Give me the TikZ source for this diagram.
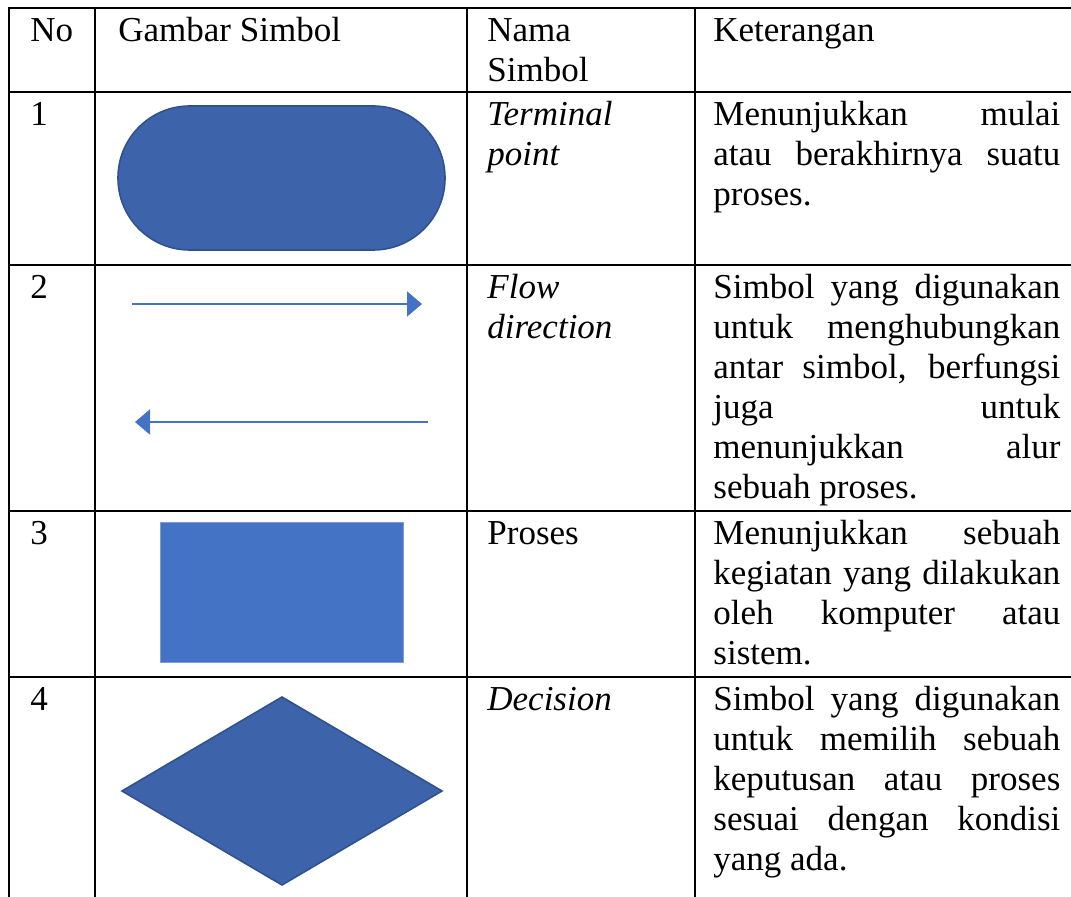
\documentclass[tikz,border=0pt]{standalone}
\usepackage{fontspec}
\setmainfont{Liberation Serif}
\usetikzlibrary{arrows.meta}

\definecolor{shapedark}{HTML}{3D64AB}
\definecolor{shapeedge}{HTML}{2F528F}
\definecolor{shapeblue}{HTML}{4472C4}

% one justified line of the Keterangan column
\newcommand{\fullline}[1]{\makebox[173.5pt][s]{#1}}

\begin{document}
\begin{tikzpicture}[x=0.5pt, y=-0.5pt,
    cell/.style={anchor=north west, inner sep=0pt, align=left, font=\fontsize{17.5}{20}\selectfont},
    grid/.style={draw=black, line width=1.2pt, line cap=rect},
    dark/.style={fill=shapedark, draw=shapeedge, line width=0.8pt},
    light/.style={fill=shapeblue, draw=shapeblue!70!white, line width=0.5pt},
    flow/.style={-{Triangle[length=7.5pt, width=12.5pt]}, draw=shapeblue, line width=1pt}
  ]
    \useasboundingbox (0,0) rectangle (1071,897);
    % table rules
    \foreach \y in {8, 92, 265, 511, 677}
      \draw[grid] (9,\y) -- (1075,\y);
    \foreach \x in {9, 95, 467, 695}
      \draw[grid] (\x,8) -- (\x,900);

    % header
    \node[cell] (hno) at (30,13) {\strut No};
    \node[cell] (hgambar) at (118,13) {\strut Gambar Simbol};
    \node[cell] (hnama) at (487,13) {\strut Nama\\Simbol};
    \node[cell] (hket) at (713,13) {\strut Keterangan};

    % numbers
    \node[cell] (no1) at (30,97) {\strut 1};
    \node[cell] (no2) at (30,270) {\strut 2};
    \node[cell] (no3) at (30,516) {\strut 3};
    \node[cell] (no4) at (30,682) {\strut 4};

    % symbols
    \filldraw[dark, rounded corners=35.9pt] (118,106) rectangle (445,250);
    \coordinate (fwdA) at (132,304);
    \coordinate (fwdB) at (422,304);
    \coordinate (backA) at (428,422);
    \coordinate (backB) at (135,422);
    \draw[flow] (fwdA) -- (fwdB);
    \draw[flow] (backA) -- (backB);
    \filldraw[light] (160,523) rectangle (403,663);
    \filldraw[dark] (282,697) -- (442,791) -- (282,885) -- (122,791) -- cycle;

    % names
    \node[cell] (nama1) at (487,97) {\strut\textit{Terminal}\\\textit{point}};
    \node[cell] (nama2) at (487,270) {\strut\textit{Flow}\\\textit{direction}};
    \node[cell] (nama3) at (487,516) {\strut Proses};
    \node[cell] (nama4) at (487,682) {\strut\textit{Decision}};

    % descriptions
    \node[cell] (ket1) at (713,97) {\strut\fullline{Menunjukkan mulai}\\\fullline{atau berakhirnya suatu}\\proses.};
    \node[cell] (ket2) at (713,270) {\strut\fullline{Simbol yang digunakan}\\\fullline{untuk menghubungkan}\\\fullline{antar simbol, berfungsi}\\\fullline{juga untuk}\\\fullline{menunjukkan alur}\\sebuah proses.};
    \node[cell] (ket3) at (713,516) {\strut\fullline{Menunjukkan sebuah}\\\fullline{kegiatan yang dilakukan}\\\fullline{oleh komputer atau}\\sistem.};
    \node[cell] (ket4) at (713,682) {\strut\fullline{Simbol yang digunakan}\\\fullline{untuk memilih sebuah}\\\fullline{keputusan atau proses}\\\fullline{sesuai dengan kondisi}\\yang ada.};
  \end{tikzpicture}
\end{document}
